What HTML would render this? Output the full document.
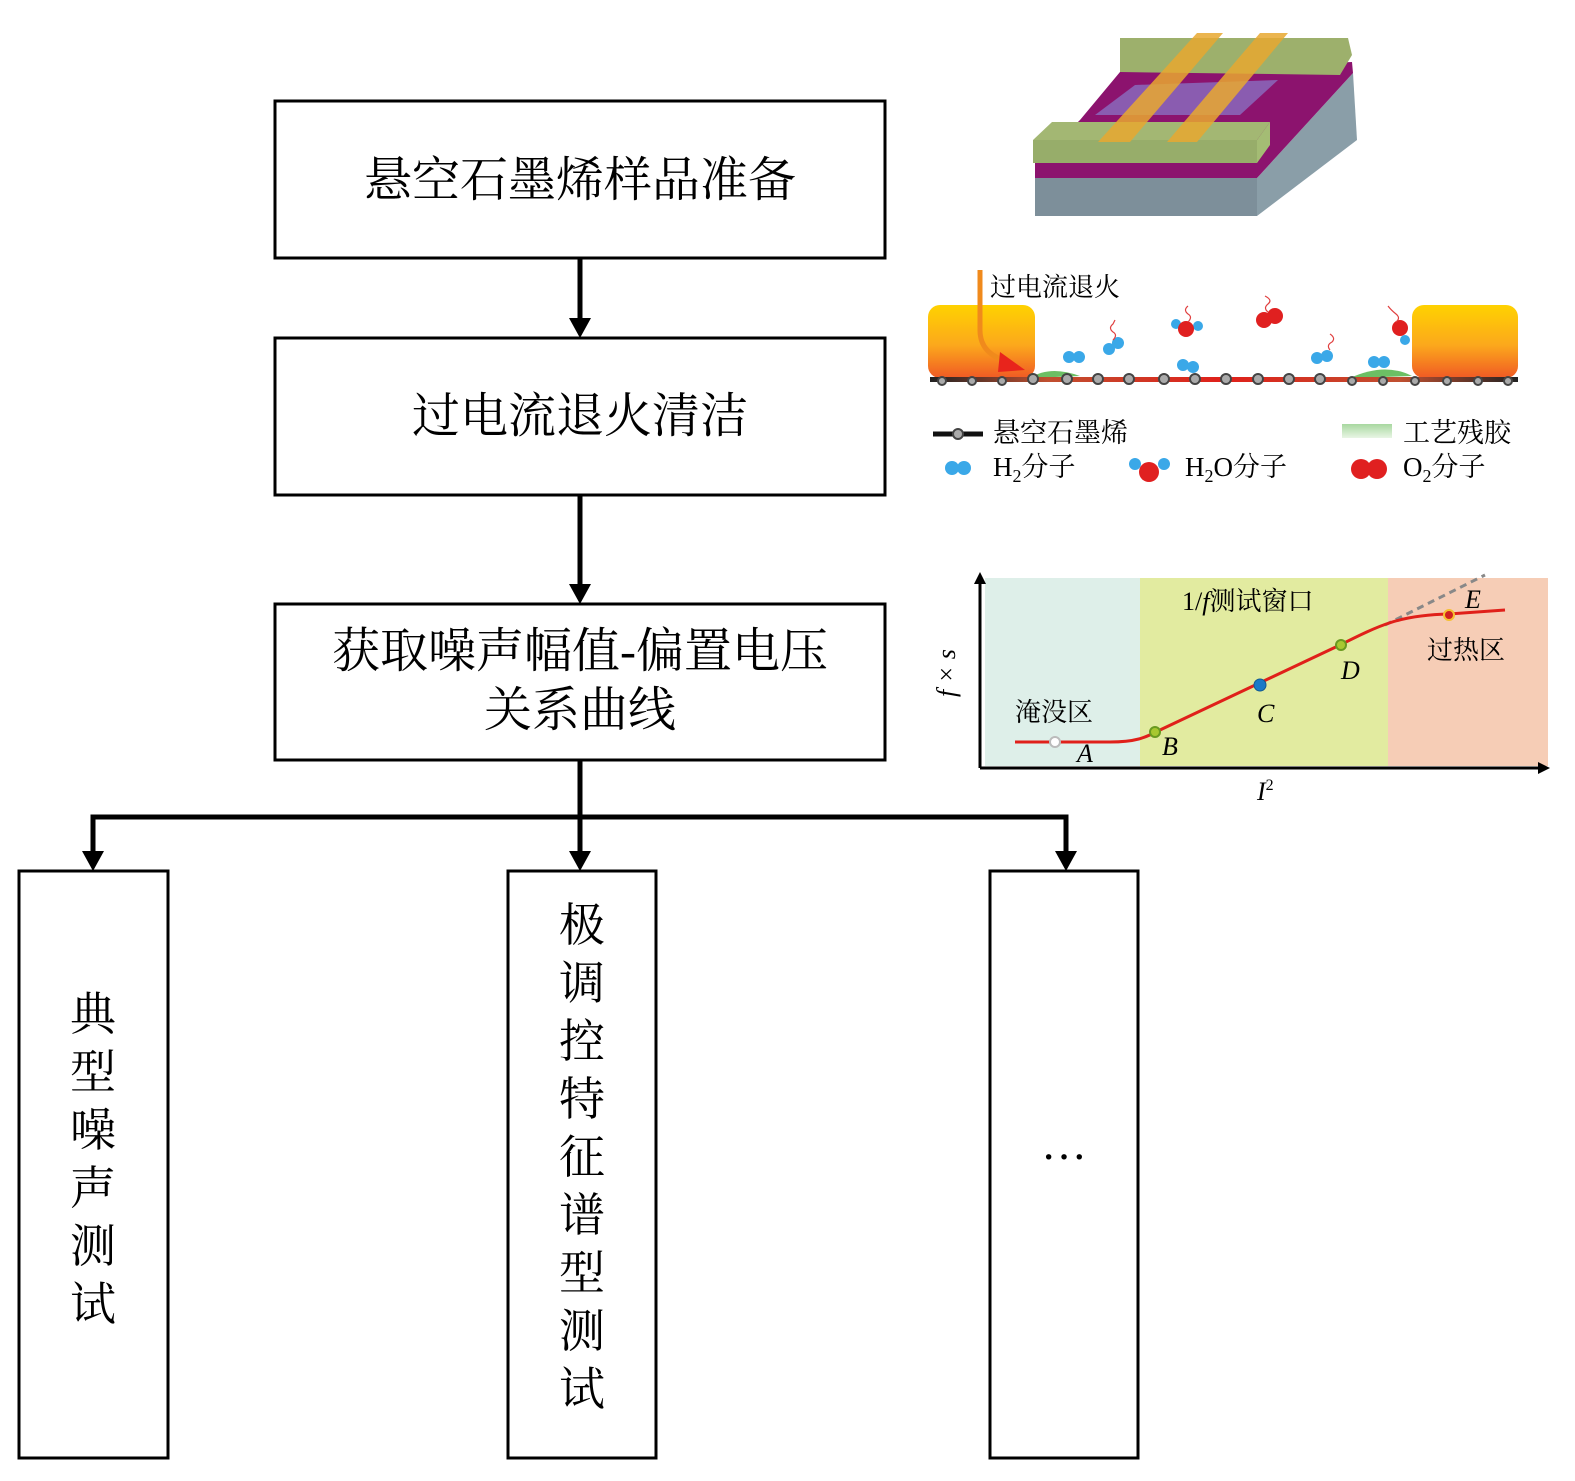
<!DOCTYPE html>
<html><head><meta charset="utf-8"><style>
body{margin:0;background:#fff;}
</style></head><body>
<svg width="1575" height="1476" viewBox="0 0 1575 1476" xmlns="http://www.w3.org/2000/svg" style="font-family:'Liberation Serif','Noto Serif CJK SC',serif">
<defs>
<linearGradient id="el" x1="0" y1="0" x2="0" y2="1"><stop offset="0" stop-color="#ffd200"/><stop offset="0.55" stop-color="#fca81c"/><stop offset="1" stop-color="#f05a24"/></linearGradient>
<linearGradient id="gl" x1="0" y1="0" x2="1" y2="0"><stop offset="0" stop-color="#222"/><stop offset="0.2" stop-color="#c05030"/><stop offset="0.5" stop-color="#e0201a"/><stop offset="0.8" stop-color="#c05030"/><stop offset="1" stop-color="#222"/></linearGradient>
<linearGradient id="gr" x1="0" y1="0" x2="0" y2="1"><stop offset="0" stop-color="#a8d8a0"/><stop offset="1" stop-color="#e8f5e4"/></linearGradient>
</defs>
<g fill="none" stroke="#000" stroke-width="3">
<rect x="275" y="101" width="610" height="157"/>
<rect x="275" y="338" width="610" height="157"/>
<rect x="275" y="604" width="610" height="156"/>
<rect x="19" y="871" width="149" height="587"/>
<rect x="508" y="871" width="148" height="587"/>
<rect x="990" y="871" width="148" height="587"/>
</g>
<g stroke="#000" stroke-width="5" fill="none">
<line x1="580" y1="258" x2="580" y2="322"/>
<line x1="580" y1="495" x2="580" y2="588"/>
<line x1="580" y1="760" x2="580" y2="855"/>
<polyline points="93,855 93,817 1066,817 1066,855"/>
</g>
<g fill="#000">
<path d="M569,318 L591,318 L580,338 z"/>
<path d="M569,584 L591,584 L580,604 z"/>
<path d="M569,851 L591,851 L580,871 z"/>
<path d="M82,851 L104,851 L93,871 z"/>
<path d="M1055,851 L1077,851 L1066,871 z"/>
</g>
<g font-size="48" text-anchor="middle" fill="#000">
<text x="580" y="196">悬空石墨烯样品准备</text>
<text x="580" y="432">过电流退火清洁</text>
<text x="580" y="667">获取噪声幅值-偏置电压</text>
<text x="580" y="726">关系曲线</text>
</g>
<g font-size="46" text-anchor="middle" fill="#000">
<text x="93" y="1030">典</text><text x="93" y="1088">型</text><text x="93" y="1146">噪</text><text x="93" y="1204">声</text><text x="93" y="1262">测</text><text x="93" y="1320">试</text>
<text x="582" y="941">极</text><text x="582" y="999">调</text><text x="582" y="1057">控</text><text x="582" y="1115">特</text><text x="582" y="1173">征</text><text x="582" y="1231">谱</text><text x="582" y="1289">型</text><text x="582" y="1347">测</text><text x="582" y="1405">试</text>
<text x="1064" y="1172">···</text>
</g>
<g>
<polygon points="1257,178 1353,73 1357,140 1257,216" fill="#8a9ea8"/>
<rect x="1035" y="173" width="222" height="43" fill="#7d8f9a"/>
<polygon points="1035,163 1080,120 1120,72 1352,62 1353,73 1257,178 1035,178" fill="#8c136e"/>
<polygon points="1095,115 1135,85 1278,80 1240,115" fill="#8a5cb0"/>
<polygon points="1120,38 1348,38 1352,55 1340,75 1120,72" fill="#9db06c"/>
<polygon points="1033,140 1052,122 1270,122 1257,140" fill="#a3b773"/>
<rect x="1033" y="140" width="224" height="23" fill="#97ad6a"/>
<polygon points="1257,140 1270,122 1270,145 1257,163" fill="#a4bc74"/>
<polygon points="1197,33 1223,33 1130,142 1098,142" fill="#e8a830" opacity="0.85"/>
<polygon points="1260,33 1288,33 1197,142 1167,142" fill="#e8a830" opacity="0.85"/>
</g>
<g>
<rect x="928" y="305" width="107" height="73" rx="12" fill="url(#el)"/>
<rect x="1412" y="305" width="106" height="73" rx="12" fill="url(#el)"/>
<path d="M1030,378 Q1050,365 1080,376 Z" fill="#6cbf64"/>
<path d="M1350,378 Q1385,362 1412,376 Z" fill="#6cbf64"/>
<rect x="930" y="377" width="588" height="5" fill="url(#gl)"/>
<g fill="#aaa" stroke="#444" stroke-width="2">
<circle cx="942" cy="381" r="4"/><circle cx="972" cy="381" r="4"/><circle cx="1002" cy="381" r="4"/><circle cx="1033" cy="379" r="5"/><circle cx="1067" cy="379" r="5"/><circle cx="1098" cy="379" r="5"/><circle cx="1129" cy="379" r="5"/><circle cx="1164" cy="379" r="5"/><circle cx="1195" cy="379" r="5"/><circle cx="1226" cy="379" r="5"/><circle cx="1258" cy="379" r="5"/><circle cx="1289" cy="379" r="5"/><circle cx="1320" cy="379" r="5"/><circle cx="1352" cy="381" r="4"/><circle cx="1383" cy="381" r="4"/><circle cx="1415" cy="381" r="4"/><circle cx="1447" cy="381" r="4"/><circle cx="1478" cy="381" r="4"/><circle cx="1508" cy="381" r="4"/>
</g>
<path d="M980,270 L980,330 Q980,355 1010,362" stroke="#f08a1c" stroke-width="5" fill="none"/>
<path d="M1000,352 L1025,370 L998,372 z" fill="#e8241c"/>
<g fill="#3aa8e8">
<circle cx="1069" cy="357" r="6"/><circle cx="1079" cy="357" r="6"/>
<circle cx="1109" cy="349" r="6"/><circle cx="1118" cy="343" r="6"/>
<circle cx="1183" cy="365" r="6"/><circle cx="1193" cy="367" r="6"/>
<circle cx="1317" cy="358" r="6"/><circle cx="1327" cy="356" r="6"/>
<circle cx="1374" cy="362" r="6"/><circle cx="1384" cy="362" r="6"/>
<circle cx="1176" cy="324" r="5"/><circle cx="1198" cy="326" r="5"/>
<circle cx="1405" cy="340" r="5"/>
</g>
<g fill="#e02020">
<circle cx="1186" cy="329" r="8"/>
<circle cx="1264" cy="320" r="8"/><circle cx="1275" cy="316" r="8"/>
<circle cx="1400" cy="328" r="8"/>
</g>
<g stroke="#e04040" stroke-width="1.2" fill="none">
<path d="M1113,340 q5,-5 0,-8 q-5,-4 0,-8 l2,-4"/><path d="M1188,322 q5,-5 0,-8 q-5,-4 0,-8"/><path d="M1268,312 q-5,-4 0,-8 q5,-4 -3,-8"/><path d="M1330,350 q-4,-5 2,-8 q4,-4 -2,-8"/><path d="M1396,322 q5,-4 0,-8 q-5,-4 -8,-8"/>
</g>
<text x="990" y="296" font-size="26">过电流退火</text>
<line x1="933" y1="434" x2="983" y2="434" stroke="#111" stroke-width="5"/>
<circle cx="958" cy="434" r="5" fill="#aaa" stroke="#444" stroke-width="2"/>
<text x="993" y="442" font-size="27">悬空石墨烯</text>
<rect x="1342" y="424" width="50" height="14" fill="url(#gr)"/>
<text x="1403" y="442" font-size="27">工艺残胶</text>
<g fill="#3aa8e8"><circle cx="952" cy="468" r="7"/><circle cx="964" cy="468" r="7"/><circle cx="1135" cy="464" r="6"/><circle cx="1164" cy="464" r="6"/></g>
<circle cx="1149" cy="472" r="10" fill="#e02020"/>
<circle cx="1361" cy="469" r="10" fill="#e02020"/><circle cx="1377" cy="469" r="10" fill="#e02020"/>
<text x="993" y="476" font-size="27">H<tspan font-size="18" dy="6">2</tspan><tspan dy="-6">分子</tspan></text>
<text x="1185" y="476" font-size="27">H<tspan font-size="18" dy="6">2</tspan><tspan dy="-6">O分子</tspan></text>
<text x="1403" y="476" font-size="27">O<tspan font-size="18" dy="6">2</tspan><tspan dy="-6">分子</tspan></text>
</g>
<g>
<rect x="985" y="578" width="155" height="188" fill="#deefe9"/>
<rect x="1140" y="578" width="248" height="188" fill="#e2eba0"/>
<rect x="1388" y="578" width="160" height="188" fill="#f6cdb6"/>
<line x1="980" y1="768" x2="1540" y2="768" stroke="#000" stroke-width="3"/>
<line x1="980" y1="768" x2="980" y2="582" stroke="#000" stroke-width="3"/>
<path d="M974,584 L980,572 L986,584 z"/><path d="M1538,762 L1550,768 L1538,774 z"/>
<line x1="1385" y1="625" x2="1485" y2="575" stroke="#888" stroke-width="3" stroke-dasharray="7,5"/>
<path d="M1015,742 L1110,742 C1135,742 1145,738 1160,730 L1340,645 C1380,625 1400,615 1449,614 L1505,610" stroke="#e0201a" stroke-width="3" fill="none"/>
<circle cx="1055" cy="742" r="5" fill="#fff" stroke="#bbb" stroke-width="2"/>
<circle cx="1155" cy="732" r="5" fill="#a8c830" stroke="#6a9a20" stroke-width="2"/>
<circle cx="1260" cy="685" r="6" fill="#1a7ac8" stroke="#145a90" stroke-width="1"/>
<circle cx="1341" cy="645" r="5" fill="#a8c830" stroke="#6a9a20" stroke-width="2"/>
<circle cx="1449" cy="615" r="5" fill="#d02020" stroke="#f5c030" stroke-width="2"/>
<g font-size="26" font-style="italic">
<text x="1077" y="762">A</text><text x="1162" y="755">B</text><text x="1257" y="722">C</text><text x="1341" y="679">D</text><text x="1465" y="608">E</text>
<text x="1257" y="800">I<tspan font-size="16" font-style="normal" dy="-10">2</tspan></text>
<text transform="translate(955,697) rotate(-90)">f × s</text>
</g>
<text x="1182" y="610" font-size="26">1/<tspan font-style="italic">f</tspan>测试窗口</text>
<text x="1015" y="721" font-size="26">淹没区</text>
<text x="1427" y="659" font-size="26">过热区</text>
</g>
</svg>
</body></html>
